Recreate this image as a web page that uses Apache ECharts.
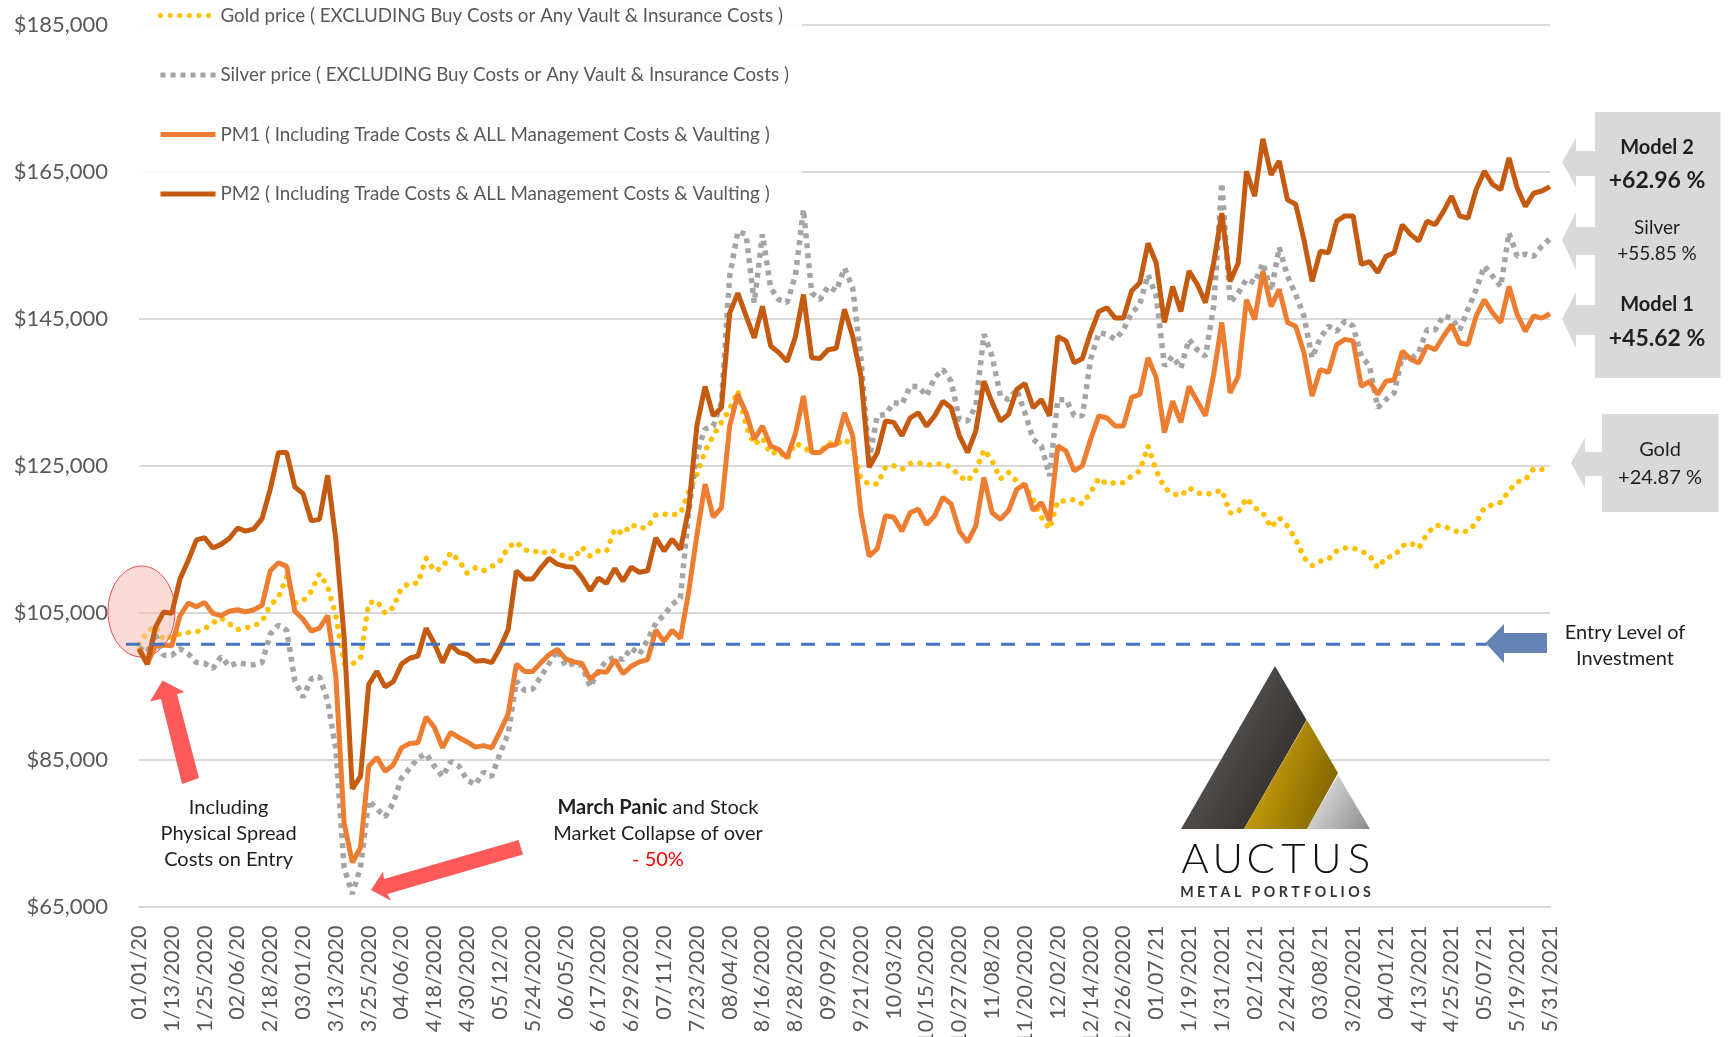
<!DOCTYPE html>
<html lang="en">

<head>
    <meta charset="UTF-8">
    <title>Auctus Metal Portfolios - PM1 and PM2 vs Gold and Silver</title>
    <script src="https://cdn.jsdelivr.net/npm/echarts@6/dist/echarts.min.js"></script>
    <style>
        html, body { margin: 0; padding: 0; background: #fff; }
    </style>
</head>

<body>
    <div id="main" style="width: 1730px; height: 1037px;"></div>
    <script type="text/javascript">
        // Tick labels, one every 12 days (values below are read every 3 days)
        const tickLabels = ['01/01/20', '1/13/2020', '1/25/2020', '02/06/20', '2/18/2020', '03/01/20', '3/13/2020', '3/25/2020',
            '04/06/20', '4/18/2020', '4/30/2020', '05/12/20', '5/24/2020', '06/05/20', '6/17/2020', '6/29/2020', '07/11/20',
            '7/23/2020', '08/04/20', '8/16/2020', '8/28/2020', '09/09/20', '9/21/2020', '10/03/20', '10/15/2020', '10/27/2020',
            '11/08/20', '11/20/2020', '12/02/20', '12/14/2020', '12/26/2020', '01/07/21', '1/19/2021', '1/31/2021', '02/12/21',
            '2/24/2021', '03/08/21', '3/20/2021', '04/01/21', '4/13/2021', '4/25/2021', '05/07/21', '5/19/2021', '5/31/2021'];
        const yTicks = [65000, 85000, 105000, 125000, 145000, 165000, 185000];
        const entryLevel = 100700;

        const goldPrice = [100700, 102400, 103200, 101300, 101800, 102100, 102300, 102400, 102800, 103600,
            104300, 103500, 102700, 102900, 103200, 103800, 106000, 107100, 109900, 106300,
            106600, 107900, 110300, 108500, 104600, 98000, 98000, 98800, 106300, 106600,
            104900, 105700, 108400, 109000, 109000, 112400, 110700, 111100, 113200, 112100,
            110400, 111100, 110700, 111300, 112000, 113900, 114600, 113500, 113500, 113000,
            113500, 113200, 112500, 112300, 113900, 112700, 113400, 113400, 116400, 115700,
            117000, 116500, 116600, 118300, 118400, 118300, 118500, 121400, 123800, 127000,
            129100, 130900, 132700, 135200, 130400, 127900, 128800, 126600, 127000, 125900,
            128100, 127500, 126800, 126800, 128100, 127900, 128600, 127700, 123200, 122500,
            122500, 124800, 125000, 124500, 125300, 125400, 125100, 125200, 125300, 124800,
            123600, 122900, 124300, 127200, 125700, 123200, 124100, 122900, 122300, 120400,
            118000, 116400, 120200, 120200, 120400, 119800, 121400, 123300,
            122500, 122700, 122700, 123600, 124300, 127700, 124300, 122000, 121200, 120900,
            122000, 121300, 121100, 121300, 121700, 118600, 118700, 120600, 119300, 118600,
            116600, 117900, 116800, 115000, 112500, 111400, 112000, 112300, 113400, 113800,
            113800, 113400, 112800, 111100, 112500, 112700, 114100, 114500, 113800, 115700,
            116900, 116800, 116300, 115900, 116100, 117200, 119300, 119700, 120000, 121600,
            122800, 123100, 124600, 124500, 124900];

        const silverPrice = [100200, 99600, 102100, 99200, 99200, 100100, 99400, 98200, 98100, 97400,
            99000, 97700, 98200, 98000, 97900, 98200, 102100, 103300, 102600, 95700,
            93500, 96000, 96300, 93000, 86300, 70300, 66700, 70300, 79400, 78300,
            77200, 79100, 82500, 83800, 85200, 85800, 84100, 82700, 84700, 84100,
            82200, 81600, 83300, 82700, 85800, 88500, 95700, 94400, 94600, 96300,
            98100, 99900, 97700, 98100, 97800, 94900, 97000, 98500, 98900, 98600,
            100200, 99300, 101300, 103600, 104700, 106100, 107000, 118600, 126800, 130000,
            130400, 133600, 150800, 156900, 156500, 147200, 156500, 149200, 147600, 147200,
            150800, 159900, 148500, 147600, 149400, 148800, 151900, 149200, 139500, 125900,
            131800, 132000, 133600, 133400, 135800, 135800, 134500, 137000, 138100, 136500,
            131300, 131100, 133100, 142900, 139900, 134500, 134000, 135400, 132200, 128600,
            127700, 123600, 134000, 134000, 131800, 131800, 139500, 143100,
            142900, 142200, 143500, 145800, 147000, 151000, 148100, 138600, 139900, 138300,
            142200, 140800, 139900, 146700, 163500, 147200, 148500, 150400, 149900, 152600,
            148800, 154700, 150800, 148300, 145400, 139700, 142400, 144000, 143300, 144700,
            144000, 139900, 138600, 132900, 134000, 134900, 139900, 139500, 140400, 143500,
            143500, 145400, 145100, 143500, 146300, 149000, 152200, 150800, 149400, 156700,
            153500, 153800, 153500, 154900, 155900];

        const pm1Values = [100200, 98000, 100500, 100600, 100500, 104600, 106300, 105800, 106400, 104900,
            104600, 105200, 105400, 105100, 105400, 106000, 110700, 111800, 111300, 105200,
            104100, 102500, 102900, 104600, 96300, 76400, 71000, 73000, 84100, 85300,
            83400, 84300, 86600, 87200, 87300, 90800, 89400, 86600, 88700, 88000,
            87400, 86700, 86900, 86600, 88800, 91200, 98000, 97000, 97000, 98200,
            99300, 100000, 98700, 98300, 98100, 95900, 97000, 96900, 98600, 96700,
            97700, 98300, 98600, 102600, 101100, 102600, 101500, 107800, 115500, 122500,
            118000, 119300, 130400, 134700, 132200, 128600, 130400, 127700, 127200, 126100,
            129300, 134500, 126800, 126800, 127700, 127900, 132200, 129100, 118600, 112700,
            113700, 118200, 118000, 116100, 118600, 119100, 117000, 118200, 120700, 119800,
            116100, 114600, 116800, 123400, 118600, 117700, 118900, 121800, 122500, 118900,
            120000, 117500, 127700, 127000, 124300, 125000, 128600, 131800,
            131500, 130400, 130400, 134300, 134700, 139700, 137000, 129500, 133800, 130900,
            135800, 133800, 131800, 137400, 144500, 134900, 137200, 147600, 144900, 151500,
            146700, 149000, 144500, 144000, 140400, 134500, 138100, 137700, 141500, 142200,
            142000, 135800, 136500, 134700, 136500, 136700, 140600, 139500, 139000, 141300,
            140800, 142600, 144200, 141700, 141500, 145400, 147600, 145800, 144500, 149400,
            145600, 143300, 145400, 145100, 145700];

        const pm2Values = [100000, 98000, 103000, 105100, 104900, 109600, 112100, 114900, 115200, 113800,
            114300, 115100, 116500, 116100, 116400, 117800, 121800, 126800, 126800, 122100,
            121200, 117500, 117700, 123700, 114900, 101800, 81000, 82700, 95200, 97000,
            94900, 95600, 98000, 98800, 99100, 102900, 100800, 98200, 100600, 99600,
            99300, 98400, 98500, 98200, 100200, 102700, 110700, 109600, 109600, 111100,
            112400, 111600, 111300, 111200, 109800, 108000, 109700, 109000, 111000, 109300,
            111200, 110500, 110700, 115200, 113400, 115000, 113600, 119100, 130400, 135800,
            131800, 132900, 145800, 148500, 145400, 142400, 146700, 141300, 140400, 139200,
            142500, 148300, 139700, 139600, 140800, 141000, 146300, 142600, 137200, 124800,
            126800, 131100, 130900, 129100, 131500, 132200, 130400, 131800, 133800, 132900,
            129100, 126800, 129700, 136500, 133600, 131100, 132000, 135400, 136200, 132900,
            134000, 131800, 142600, 142000, 139000, 139600, 143100, 146000,
            146500, 145100, 145100, 148800, 149900, 155300, 152600, 144500, 149400, 146000,
            151500, 149700, 147200, 152600, 159400, 150100, 152600, 165100, 161700, 169500,
            164600, 166500, 161200, 160600, 155800, 150100, 154200, 154000, 158300, 159000,
            159000, 152400, 152800, 151300, 153500, 154000, 157800, 156500, 155600, 158300,
            157800, 159600, 161700, 159000, 158700, 162600, 165100, 163300, 162600, 166900,
            162800, 160300, 162100, 162400, 163000];

        const seriesNames = ['Gold price ( EXCLUDING Buy Costs or Any Vault & Insurance Costs )',
            'Silver price ( EXCLUDING Buy Costs or Any Vault & Insurance Costs )',
            'PM1 ( Including Trade Costs & ALL Management Costs & Vaulting )',
            'PM2 ( Including Trade Costs & ALL Management Costs & Vaulting )'];

        const FONT = 'Lato';

        // one tick label per 4 samples
        const categories = goldPrice.map((v, i) => (i % 4 === 0 ? tickLabels[i / 4] : ''));

        function txt(x, y, text, size, extra) {
            return {
                type: 'text', z: 10, x: x, y: y,
                style: Object.assign({
                    text: text, fontFamily: FONT, fontSize: size, fill: '#1f1f1f',
                    align: 'center', verticalAlign: 'middle'
                }, extra || {})
            };
        }

        function poly(points, fill, z) {
            return { type: 'polygon', z: z || 10, shape: { points: points }, style: { fill: fill } };
        }

        function grad(x, y, x2, y2, c1, c2) {
            return new echarts.graphic.LinearGradient(x, y, x2, y2, [{ offset: 0, color: c1 }, { offset: 1, color: c2 }]);
        }

        // Annotations around the chart: boxes, arrows, logo, notes
        const annotations = [
            // hides the gridlines behind the legend
            { type: 'rect', z: 1, shape: { x: 130, y: 16, width: 672, height: 200 }, style: { fill: 'rgba(255,255,255,0.92)' } },

            { type: 'ellipse', z: 3, shape: { cx: 141.5, cy: 611.5, rx: 33.5, ry: 45.5 }, style: { fill: 'rgba(248,190,178,0.55)', stroke: '#F0484F', lineWidth: 1 } },
            poly([[162.5, 680.5], [184.6, 692], [177, 694], [199, 778], [182, 784], [161, 699], [150, 701.6]], '#FF5A5A'),
            poly([[371, 890], [383, 871.5], [384, 879], [518.6, 840], [523, 854.5], [387.5, 894], [391, 900.8]], '#FF5A5A'),

            txt(228.6, 808, 'Including', 20),
            txt(228.6, 834, 'Physical Spread', 20),
            txt(228.6, 860, 'Costs on Entry', 20),
            txt(658, 808, '{b|March Panic} and Stock', 20, { rich: { b: { fontFamily: FONT, fontSize: 20, fontWeight: 'bold', fill: '#1f1f1f' } } }),
            txt(658, 834, 'Market Collapse of over', 20),
            txt(658, 860, '- 50%', 20, { fill: '#FF0000' }),

            // right side value boxes
            { type: 'rect', z: 4, shape: { x: 1595, y: 112, width: 125.5, height: 266 }, style: { fill: '#D9D9D9' } },
            { type: 'rect', z: 4, shape: { x: 1602, y: 414, width: 116.5, height: 98 }, style: { fill: '#D9D9D9' } },
            poly([[1562, 162], [1576, 138], [1576, 151], [1596, 151], [1596, 176], [1576, 176], [1576, 187]], '#D9D9D9', 4),
            poly([[1562, 240], [1576, 212], [1576, 227], [1596, 227], [1596, 255], [1576, 255], [1576, 270]], '#D9D9D9', 4),
            poly([[1562, 319], [1576, 292], [1576, 305], [1596, 305], [1596, 335], [1576, 335], [1576, 348]], '#D9D9D9', 4),
            poly([[1571, 463], [1585, 438], [1585, 452], [1603, 452], [1603, 476], [1585, 476], [1585, 488]], '#D9D9D9', 4),

            txt(1657, 148, 'Model 2', 20, { fontWeight: 'bold' }),
            txt(1657, 181, '+62.96 %', 23, { fontWeight: 'bold' }),
            txt(1657, 228, 'Silver', 19),
            txt(1657, 254, '+55.85 %', 19),
            txt(1657, 305, 'Model 1', 20, { fontWeight: 'bold' }),
            txt(1657, 339, '+45.62 %', 23, { fontWeight: 'bold' }),
            txt(1660, 450, 'Gold', 20),
            txt(1660, 478, '+24.87 %', 20),

            // entry level arrow
            poly([[1485.5, 643], [1504, 624], [1504, 633], [1547, 633], [1547, 653], [1504, 653], [1504, 663]], '#6583B4'),
            txt(1625, 633, 'Entry Level of', 20),
            txt(1625, 659, 'Investment', 20),

            // logo
            poly([[1275, 666], [1306.5, 720], [1244, 829], [1181, 829]], grad(0, 0, 1, 0.4, '#6a6a6a', '#37322e')),
            poly([[1307, 720], [1338, 773], [1307, 829], [1244, 829]], grad(0, 0.4, 1, 0.7, '#d3a90c', '#7f6200')),
            poly([[1338, 775], [1370, 829], [1307, 829]], grad(0, 0.3, 1, 1, '#e4e4e4', '#8b8b8b')),
            txt(1275.5, 892, 'M E T A L   P O R T F O L I O S', 14.2, { fill: '#333', fontWeight: 'bold' })
        ];

        // logo lettering, spaced out letter by letter
        'AUCTUS'.split('').forEach((c, i) => {
            annotations.push(txt(1195 + i * 32.8, 859, c, 42, { fill: '#111', fontWeight: 300 }));
        });

        const myChart = echarts.init(document.getElementById('main'));

        const option = {
            animation: false,
            backgroundColor: '#fff',
            textStyle: { fontFamily: FONT },
            // labels run off the bottom of the picture, keep the grid where it is
            grid: { left: 139, right: 180, top: 25, bottom: 130.5, outerBoundsMode: 'none' },
            legend: {
                orient: 'vertical', left: 153, top: 1, itemWidth: 55, itemHeight: 14, itemGap: 40.5,
                selectedMode: false,
                data: seriesNames,
                itemStyle: { opacity: 0 },
                lineStyle: { width: 5 },
                textStyle: { fontFamily: FONT, fontSize: 18.8, color: '#595959' }
            },
            xAxis: {
                type: 'category',
                data: categories,
                boundaryGap: false,
                axisLine: { lineStyle: { color: '#D9D9D9', width: 2 } },
                axisTick: { show: false },
                axisLabel: { interval: 3, rotate: 90, margin: 19, fontSize: 21.5, fontFamily: FONT, color: '#595959' }
            },
            yAxis: {
                type: 'value',
                min: 65000,
                max: 185000,
                axisLine: { show: false },
                axisTick: { show: false, customValues: yTicks },
                axisLabel: {
                    customValues: yTicks, margin: 31, fontSize: 22, fontFamily: FONT, color: '#595959',
                    formatter: (v) => '$' + v.toLocaleString('en-US')
                },
                splitLine: { lineStyle: { color: '#D9D9D9', width: 2 } }
            },
            series: [
                { name: seriesNames[0], type: 'line', data: goldPrice, symbol: 'none', z: 2, lineStyle: { color: '#FFC000', width: 5.5, type: [0.1, 9.5], cap: 'round' }, itemStyle: { color: '#FFC000' } },
                { name: seriesNames[1], type: 'line', data: silverPrice, symbol: 'none', z: 3, lineStyle: { color: '#A5A5A5', width: 5.5, type: [5, 5] }, itemStyle: { color: '#A5A5A5' } },
                { name: seriesNames[2], type: 'line', data: pm1Values, symbol: 'none', z: 4, lineStyle: { color: '#ED7D31', width: 5 }, itemStyle: { color: '#ED7D31' } },
                { name: seriesNames[3], type: 'line', data: pm2Values, symbol: 'none', z: 5, lineStyle: { color: '#C55A11', width: 5 }, itemStyle: { color: '#C55A11' } }
            ],
            graphic: { elements: annotations }
        };

        myChart.setOption(option);

        // Entry level dashed line runs a little left of the axis and stops at the blue arrow
        const entryY = myChart.convertToPixel({ yAxisIndex: 0 }, entryLevel);
        annotations.push({
            type: 'line', z: 6, shape: { x1: 126, y1: entryY, x2: 1487, y2: entryY },
            style: { stroke: '#4472C4', lineWidth: 3, lineDash: [14, 11] }
        });
        myChart.setOption({ graphic: { elements: annotations } }, { replaceMerge: ['graphic'] });
    </script>
</body>

</html>
